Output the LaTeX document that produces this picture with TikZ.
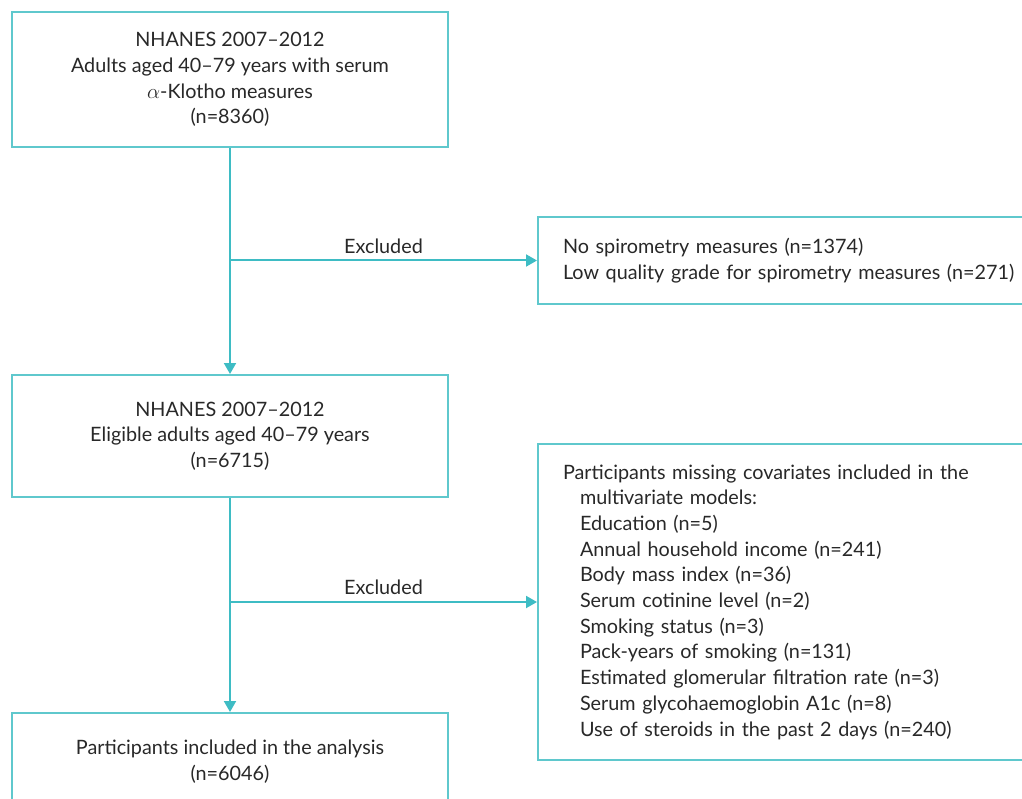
\documentclass[tikz,border=0pt]{standalone}
\usepackage{fontspec}
\setmainfont{Lato}
\usetikzlibrary{arrows.meta}
\definecolor{flowline}{RGB}{62,188,196}
\definecolor{flowbox}{RGB}{95,200,205}
\definecolor{flowtext}{RGB}{40,40,40}
\begin{document}
\begin{tikzpicture}[x=1pt,y=-1pt]
	\tikzstyle{block} = [rectangle,draw=flowbox,line width=2pt,align=center,text=flowtext,font=\fontsize{19.8}{25.7}\selectfont]
	\tikzstyle{side} = [block,align=left,anchor=west,text width=470,inner xsep=25,inner ysep=0]
	\tikzstyle{link} = [draw=flowline,line width=2pt,-{Triangle[length=11pt,width=12pt]}]
	\tikzstyle{note} = [text=flowtext,font=\fontsize{19.8}{25.7}\selectfont,above=3pt]
	\useasboundingbox (0,0) rectangle (1022,799);
	\node[block,minimum width=436,minimum height=135](klotho)at(230,79.5){NHANES 2007--2012\\Adults aged 40--79 years with serum\\$\alpha$-Klotho measures\\(n=8360)};
	\node[block,minimum width=436,minimum height=122](eligible)at(230,436){NHANES 2007--2012\\Eligible adults aged 40--79 years\\(n=6715)};
	\node[block,minimum width=436,minimum height=97](analysis)at(230,761.5){Participants included in the analysis\\(n=6046)};
	\node[side,minimum height=87](nospiro)at(537,260.5){No spirometry measures (n=1374)\\Low quality grade for spirometry measures (n=271)};
	\node[side,minimum height=316](missing)at(537,602){Participants missing covariates included in the\\
	\hspace*{17pt}multivariate models:\\
	\hspace*{17pt}Education (n=5)\\
	\hspace*{17pt}Annual household income (n=241)\\
	\hspace*{17pt}Body mass index (n=36)\\
	\hspace*{17pt}Serum cotinine level (n=2)\\
	\hspace*{17pt}Smoking status (n=3)\\
	\hspace*{17pt}Pack-years of smoking (n=131)\\
	\hspace*{17pt}Estimated glomerular filtration rate (n=3)\\
	\hspace*{17pt}Serum glycohaemoglobin A1c (n=8)\\
	\hspace*{17pt}Use of steroids in the past 2 days (n=240)};
	\coordinate(split1)at(klotho.south |- nospiro.west);
	\coordinate(split2)at(eligible.south |- missing.west);
	\draw[link](klotho)--(eligible);
	\draw[link](eligible)--(analysis);
	\draw[link](split1)--node[note]{Excluded}(nospiro.west);
	\draw[link](split2)--node[note]{Excluded}(missing.west);
\end{tikzpicture}
\end{document}
